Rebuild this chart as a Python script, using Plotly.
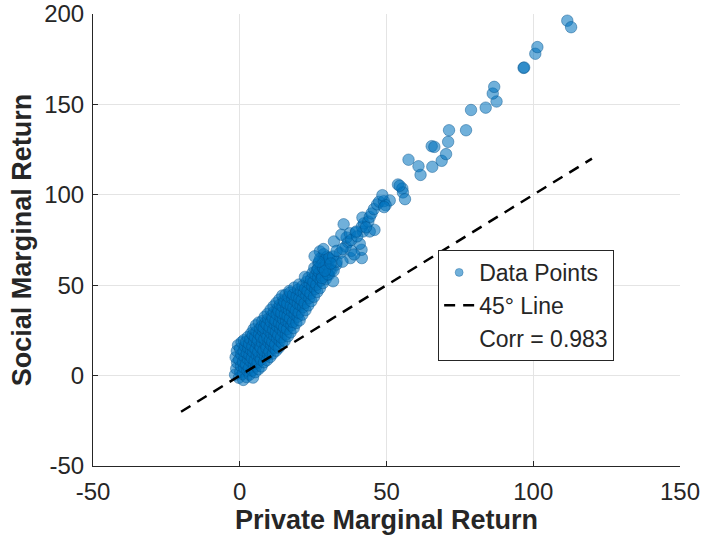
import plotly.graph_objects as go

# ---- data ----
core_x = [-1.6,-1.2,-0.9,-1.4,-1.0,-0.6,-0.3,0.2,0.4,-0.2,0.5,0.1,0.6,
          1.2,1.0,1.5,1.1,1.7,1.3,1.8,1.4,2.3,2.6,2.1,2.8,2.4,2.9,2.2,2.7,
          3.4,3.1,3.7,3.3,3.8,3.2,3.6,3.9,4.5,4.2,4.8,4.1,4.6,4.3,4.9,4.4,4.7,
          5.3,5.6,5.1,5.8,5.4,5.9,5.2,5.7,5.5,6.4,6.1,6.7,6.3,6.8,6.2,6.6,6.9,6.5,
          7.4,7.2,7.8,7.1,7.6,7.3,7.9,7.5,7.7,8.3,8.6,8.1,8.8,8.4,8.9,8.2,8.7,8.5,
          9.3,9.6,9.1,9.8,9.4,9.9,9.2,9.7,9.5,10.4,10.1,10.7,10.3,10.8,10.2,10.6,10.9,10.5,
          11.3,11.7,11.1,11.8,11.4,11.9,11.2,11.6,11.5,12.4,12.1,12.7,12.3,12.8,12.2,12.6,12.9,12.5,
          13.3,13.6,13.1,13.8,13.4,13.9,13.2,13.7,13.5,14.4,14.1,14.7,14.3,14.8,14.2,14.6,14.9,14.5,
          15.3,15.7,15.1,15.8,15.4,15.9,15.2,15.6,16.4,16.1,16.7,16.3,16.8,16.2,16.6,16.9,
          17.3,17.6,17.1,17.8,17.4,17.9,17.2,18.4,18.1,18.7,18.3,18.8,18.2,18.6,
          19.3,19.7,19.1,19.8,19.4,19.9,20.4,20.1,20.7,20.3,20.8,20.2,
          21.3,21.6,21.1,21.8,21.4,22.4,22.1,22.7,22.3,22.8,22.2,
          23.3,23.7,23.1,23.8,23.4,24.4,24.1,24.7,24.3,24.8,
          25.3,25.7,25.1,25.8,25.4,26.4,26.1,26.7,26.3,26.8,27.3,27.6,27.1,27.8,27.4,27.3,
          28.4,28.1,28.7,28.3,28.6,29.3,29.7,29.2,29.8,30.4,30.1,30.7,31.8,31.3]
core_y = [0.5,3.8,7.2,10.1,13.6,16.8,-1.2,2.1,5.3,8.9,11.7,14.9,18.4,
          -2.4,0.9,4.4,7.6,10.2,13.5,16.1,19.6,-0.8,2.7,6.3,9.1,12.4,15.2,18.7,21.3,
          0.6,4.2,7.9,11.3,14.1,17.4,20.2,23.4,-1.1,2.8,6.1,9.7,12.9,16.3,19.1,22.5,25.6,
          1.9,5.2,8.4,11.2,14.6,17.7,21.1,24.3,27.8,3.6,7.3,10.5,13.2,16.4,19.6,22.8,26.1,29.4,
          5.1,8.8,12.3,15.5,18.2,21.4,24.6,27.3,30.2,7.4,10.6,13.9,17.1,20.3,23.5,26.4,29.2,32.5,
          8.6,11.8,15.2,18.4,21.3,24.8,28.1,31.4,34.2,10.3,13.4,16.9,19.8,23.1,26.7,29.6,33.2,36.4,
          12.2,15.3,18.8,21.9,25.4,28.3,31.7,35.1,38.3,13.8,17.2,20.6,24.1,27.2,30.4,33.9,37.1,40.2,
          15.4,19.1,22.4,25.8,29.2,32.3,35.7,39.2,42.1,17.9,21.2,24.3,27.9,31.1,34.6,38.2,41.5,44.3,
          19.2,22.8,26.6,30.2,33.8,37.3,40.7,44.6,21.8,25.7,29.3,32.9,36.2,39.8,43.6,46.8,
          23.9,27.8,31.6,35.3,38.7,42.6,45.9,26.3,29.7,33.8,37.6,41.5,44.8,48.7,
          29.1,32.6,36.1,39.7,43.9,47.6,30.6,34.8,38.9,42.7,46.6,50.4,
          33.7,37.9,41.8,45.7,49.6,36.2,40.1,44.3,48.2,51.9,54.6,
          38.8,42.9,46.8,50.7,54.1,41.2,45.3,49.4,53.2,56.8,
          43.6,47.9,51.8,55.7,59.6,46.3,50.2,54.4,58.3,62.1,48.4,52.6,56.9,60.7,64.8,68.7,
          51.2,55.3,59.1,63.2,67.1,53.4,57.2,62.1,65.8,55.8,60.2,64.3,52.2,58.4]

mid_x = [26.7,28.4,29.5,30.7,32.9,30.4,31.8,34.1,37.7,41.6,41.5,40.9,36.1,36.9,32.1,36.4,
         34.6,35.4,37.5,39.5,42.0,44.3,45.9,41.6,42.3,41.8,43.8,44.3,44.9,45.7,46.8,47.5,
         49.1,51.1,49.7,49.2,48.6,53.9,55.4,55.6,56.3,54.5,
         28.0,30.0,32.0,33.0,29.0,27.0,31.0,35.0,38.0,39.0,33.0,35.0,38.0,40.0,43.0,25.5,28.5,39.7]
mid_y = [59.2,59.5,61.4,58.6,61.4,65.0,65.9,67.7,65.0,65.0,69.6,72.9,71.4,73.8,74.2,76.4,
         77.9,83.7,78.7,79.1,79.7,79.7,80.6,82.4,84.2,87.4,85.2,87.7,89.7,92.1,94.7,96.2,
         96.5,96.9,94.3,93.2,99.8,105.7,103.5,101.3,97.6,105.0,
         54.0,56.0,58.0,63.0,58.0,63.0,62.0,63.0,69.0,67.0,69.0,70.0,75.0,77.0,82.0,66.0,70.0,79.7]

tail_x = [57.5,60.9,61.6,65.6,68.8,70.3,65.4,66.3,71.0,71.3,77.1,78.8,83.8,87.5,86.2,86.7,
          96.7,96.9,100.7,101.4,111.6,112.9]
tail_y = [119.4,115.8,111.0,115.5,118.8,122.5,126.9,126.5,129.3,135.7,135.7,146.9,148.2,151.6,156.0,159.7,
          170.2,170.4,178.0,181.7,196.3,192.7]

line_x = [-20, 120]
line_y = [-20, 120]
corr_label = "Corr = 0.983"
x_ticks = [-50, 0, 50, 100, 150]
y_ticks = [-50, 0, 50, 100, 150, 200]

private_return = core_x + mid_x + tail_x
social_return = core_y + mid_y + tail_y

FONT = "Liberation Sans, Arial, Helvetica, sans-serif"
AXC = "#262626"
FACE = "rgba(0,114,189,0.56)"
EDGE = "rgba(0,80,140,0.55)"

fig = go.Figure()
fig.add_trace(go.Scatter(
    x=private_return, y=social_return, mode="markers", name="Data Points",
    showlegend=False,
    marker=dict(size=11.5, color=FACE, line=dict(color=EDGE, width=0.8)),
))
# legend-only entries
fig.add_trace(go.Scatter(
    x=[None], y=[None], mode="markers", name="Data Points",
    marker=dict(size=8, color=FACE, line=dict(color=EDGE, width=0.6)),
))
fig.add_trace(go.Scatter(
    x=line_x, y=line_y, mode="lines", name="45° Line",
    line=dict(color="black", width=2.5, dash="11px,8px"),
))
fig.add_trace(go.Scatter(
    x=[None], y=[None], mode="markers", name=corr_label,
    marker=dict(color="rgba(0,0,0,0)", size=1),
))

axis_common = dict(
    showline=True, linecolor=AXC, linewidth=1,
    ticks="inside", ticklen=5, tickcolor=AXC, tickwidth=1,
    showgrid=True, gridcolor="#e4e4e4", gridwidth=1,
    zeroline=False, mirror=False, automargin=False,
    ticklabeloverflow="allow",
    tickfont=dict(family=FONT, size=24, color=AXC),
)

fig.update_layout(
    width=701, height=542,
    margin=dict(l=93, r=21, t=14, b=76),
    paper_bgcolor="white", plot_bgcolor="white",
    xaxis=dict(range=[-50, 150], tickvals=x_ticks,
               ticktext=[str(v) for v in x_ticks], ticklabelstandoff=4,
               **axis_common,
               title=dict(text="<b>Private Marginal Return</b>", standoff=4,
                          font=dict(family=FONT, size=27, color=AXC))),
    yaxis=dict(range=[-50, 200], tickvals=y_ticks,
               ticktext=[str(v) for v in y_ticks], ticklabelstandoff=3,
               **axis_common,
               title=dict(text="<b>Social Marginal Return</b>", standoff=4,
                          font=dict(family=FONT, size=27, color=AXC))),
    legend=dict(x=0.588, y=0.478, xanchor="left", yanchor="top",
                bgcolor="white", bordercolor=AXC, borderwidth=1,
                font=dict(family=FONT, size=23, color=AXC),
                itemsizing="trace", tracegroupgap=0),
    showlegend=True,
)

fig.write_html("out.html")
